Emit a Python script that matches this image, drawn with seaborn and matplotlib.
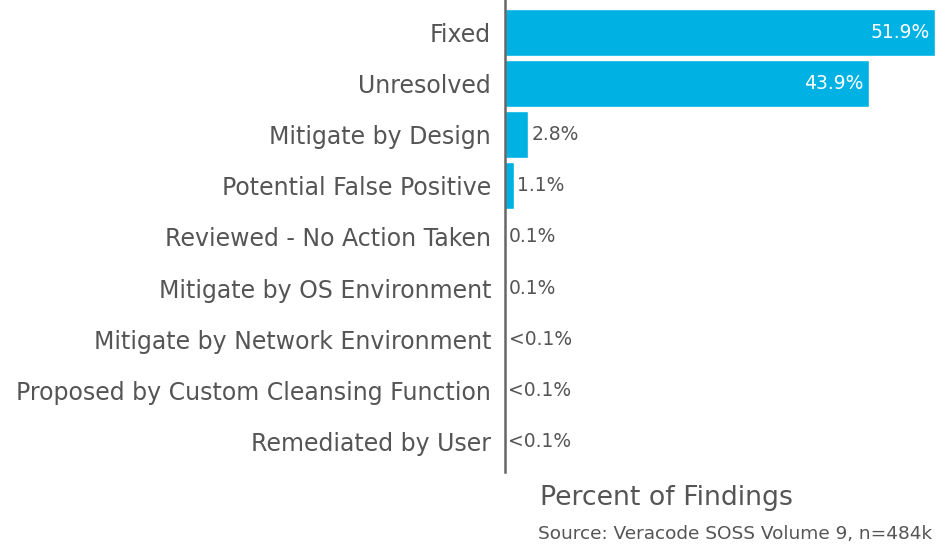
import pandas as pd
import matplotlib.pyplot as plt
import seaborn as sns

# Finding resolution shares
categories = ['Fixed', 'Unresolved', 'Mitigate by Design', 'Potential False Positive',
              'Reviewed - No Action Taken', 'Mitigate by OS Environment',
              'Mitigate by Network Environment', 'Proposed by Custom Cleansing Function',
              'Remediated by User']
percent = [51.9, 43.9, 2.8, 1.1, 0.1, 0.1, 0.03, 0.02, 0.02]
value_labels = ['51.9%', '43.9%', '2.8%', '1.1%', '0.1%', '0.1%', '<0.1%', '<0.1%', '<0.1%']

df = pd.DataFrame({'category': categories, 'percent': percent})

sns.set_style('white')
plt.rcParams['font.family'] = ['DejaVu Sans']

bar_color = '#00B2E3'
text_color = '#555555'

fig = plt.figure(figsize=(9.36, 5.46), dpi=100)
ax = fig.add_axes([0.5395, 0.135, 0.4595, 0.865])

sns.barplot(data=df, x='percent', y='category', color=bar_color, width=0.92,
            saturation=1, ax=ax)

ax.set_xlim(0, 51.9)
ax.set_ylim(8.6, -0.63)
ax.set_xlabel('')
ax.set_ylabel('')
ax.set_xticks([])
ax.tick_params(axis='y', length=0, pad=10, labelsize=17, labelcolor=text_color)
for s in ['top', 'right', 'bottom']:
    ax.spines[s].set_visible(False)
ax.spines['left'].set_color('#666666')
ax.spines['left'].set_linewidth(1.8)

# value labels: inside for big bars, outside for small
for i, (v, lab) in enumerate(zip(percent, value_labels)):
    if v > 10:
        ax.text(v - 0.6, i, lab, ha='right', va='center', color='white', fontsize=13.5)
    else:
        ax.text(v + 0.4, i, lab, ha='left', va='center', color=text_color, fontsize=13.5)

fig.text(0.577, 0.088, 'Percent of Findings', fontsize=19.3, color=text_color, va='center')
fig.text(0.575, 0.022, 'Source: Veracode SOSS Volume 9, n=484k', fontsize=13.3,
         color=text_color, va='center')

plt.savefig('out.png', dpi=100)
